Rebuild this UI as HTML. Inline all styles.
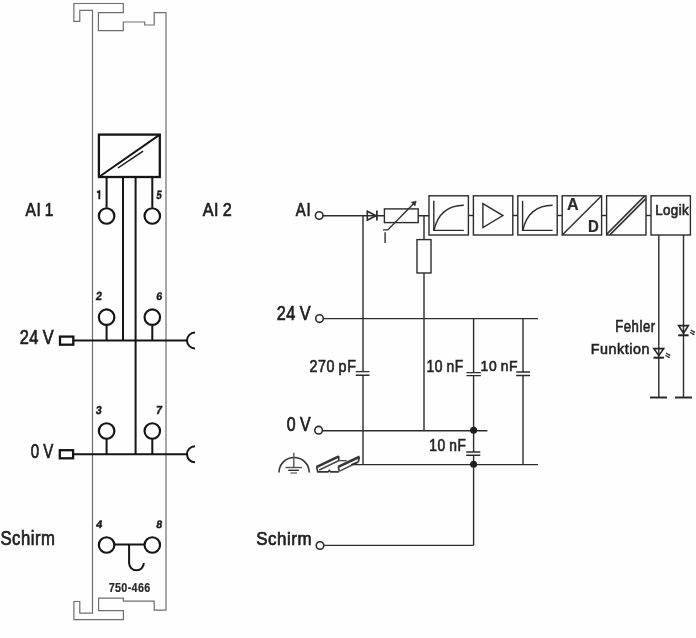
<!DOCTYPE html>
<html><head><meta charset="utf-8"><style>
html,body{margin:0;padding:0;background:#fefefe;}
svg{display:block;will-change:transform;}
</style></head><body>
<svg width="696" height="638" viewBox="0 0 696 638">
<rect width="696" height="638" fill="#fefefe"/>
<path d="M92.5,613.1 L92.5,10.3 L79.8,10.3 L79.8,21.4 L73.9,21.4 L73.9,3.5 L123.3,3.5 L123.3,12.6 L98.4,12.6 L98.4,30.6 L123.3,30.6 L123.3,22 L144.7,22 L144.7,25 L154.2,25 L154.2,12.6 L166.0,12.6 L166.0,610.2 L154.2,610.2 L154.2,601.2 L123.4,601.2 L123.4,598.2 L98.6,598.2 L98.6,610.6 L123.4,610.6 L123.4,619.6 L73.9,619.6 L73.9,601.5 L79.8,601.5 L79.8,613.1 Z" fill="none" stroke="#6e6e6e" stroke-width="1.2"/>
<g stroke="#151515" fill="none" stroke-linecap="butt"><rect x="98.9" y="134.6" width="60.9" height="42.4" fill="none" stroke-width="2.3"/><path d="M98.9,177 L159.8,134.6" stroke-width="2"/><path d="M117.9,168 L143.1,151.1" stroke-width="1.5"/><path d="M97.2,192.6 Q98.3,191.1 99.4,191.1 L99.3,199.2" stroke-width="1.9" stroke="#1a1a1a"/><path d="M106.6,177 V207.8 M152.3,177 V207.8 M123,177 V340.5 M135.6,177 V454.4" stroke-width="2"/><circle cx="106.6" cy="216.0" r="7.75" fill="none" stroke-width="2.2"/><circle cx="152.3" cy="216.0" r="7.75" fill="none" stroke-width="2.2"/><circle cx="106.6" cy="317.2" r="7.75" fill="none" stroke-width="2.2"/><circle cx="152.3" cy="317.2" r="7.75" fill="none" stroke-width="2.2"/><circle cx="106.6" cy="431.0" r="7.75" fill="none" stroke-width="2.2"/><circle cx="152.3" cy="431.0" r="7.75" fill="none" stroke-width="2.2"/><circle cx="106.6" cy="545.0" r="7.75" fill="none" stroke-width="2.2"/><circle cx="152.3" cy="545.0" r="7.75" fill="none" stroke-width="2.2"/><path d="M106.6,325 V340.5 M152.3,325 V340.5 M106.6,438.8 V454.4 M152.3,438.8 V454.4" stroke-width="2"/><path d="M73.3,340.5 H187 M73.3,454.3 H187" stroke-width="2"/><rect x="60" y="336.6" width="13.3" height="8.1" fill="none" stroke-width="2.3"/><rect x="59.8" y="450.2" width="13.3" height="8.1" fill="none" stroke-width="2.3"/><path d="M195,332.5 A8,8 0 0 0 195,348.5 M195,446.3 A8,8 0 0 0 195,462.3" fill="none" stroke-width="2"/><path d="M114,544.5 H144.5 M129.1,544.5 V563 A7.35,7.35 0 0 0 143.8,563" fill="none" stroke-width="2"/></g>
<g stroke="#2c2c2c" fill="none" stroke-width="1.4"><circle cx="319.2" cy="215.5" r="3.8" stroke-width="1.6"/><circle cx="319.5" cy="318.6" r="3.8" stroke-width="1.6"/><circle cx="318.6" cy="430.2" r="3.8" stroke-width="1.6"/><circle cx="320.0" cy="545.5" r="3.8" stroke-width="1.6"/><path d="M323,215.7 H429" /><path d="M367.3,211.2 L376,215.7 L367.3,220.1 Z" stroke="#2a2a2a" stroke-width="1.6"/><path d="M376.9,210.6 V220.5" stroke="#2a2a2a" stroke-width="1.7"/><rect x="384.4" y="208.9" width="33.8" height="13.7" fill="#fefefe"/><path d="M383,229.9 H387.8 L413.5,203.8" /><path d="M416.3,201 L411.3,202.2 L415.1,206 Z" fill="#333" stroke="#333" stroke-width="0.5"/><path d="M385.1,232.2 V243.1" /><path d="M424,215.7 V239.6 M424,273 V430.3" /><rect x="417" y="239.6" width="14" height="33.4" /><path d="M363,215.7 V371.6 M363,375.2 V464.3" /><path d="M355.7,371.6 H369.5 M355.7,375.2 H369.5" /><path d="M323.3,318.6 H538" /><path d="M473.6,318.5 V372.6 M473.6,375.6 V452 M473.6,455.2 V545.4 M466.4,372.6 H480.8 M466.4,375.6 H480.8" /><path d="M523,318.5 V372 M523,375.5 V464.2 M516.2,372 H530 M516.2,375.5 H530" /><path d="M466.2,452 H480.3 M466.2,455.2 H480.3" /><path d="M322.4,430.7 H487.4" /><path d="M351.5,464.6 H538" /><path d="M323.8,545.4 H473.6" /><rect x="429.0" y="195.8" width="39.4" height="39.2" /><path d="M468.4,215.5 H473.4" /><rect x="473.4" y="195.8" width="39.4" height="39.2" /><path d="M512.8,215.5 H517.8" /><rect x="517.8" y="195.8" width="39.4" height="39.2" /><path d="M557.1999999999999,215.5 H562.1999999999999" /><rect x="562.2" y="195.8" width="39.4" height="39.2" /><path d="M601.6,215.5 H606.6" /><rect x="606.6" y="195.8" width="39.4" height="39.2" /><path d="M646.0,215.5 H651.0" /><rect x="651.0" y="195.8" width="39.4" height="39.2" /><path d="M433.8,200.8 V230.4 H463.8" /><path d="M434.1,230 C437.8,214 447.8,205.5 463.8,205.3" /><path d="M522.5999999999999,200.8 V230.4 H552.5999999999999" /><path d="M522.8999999999999,230 C526.5999999999999,214 536.5999999999999,205.5 552.5999999999999,205.3" /><path d="M482.9,203.6 L502.9,215.6 L482.9,227.6 Z" /><path d="M562.2,235 L601.6,195.8" /><clipPath id="cb5"><rect x="606.6" y="195.8" width="39.4" height="39.2"/></clipPath><g clip-path="url(#cb5)" stroke="#333" stroke-width="1.7"><path d="M599.7,241.3 L651.1,189.5" /><path d="M601.6,243.2 L653,191.4" /></g><path d="M658.8,235 V397.5 M683.5,235 V397.5" /><path d="M650,397.5 H667 M675,397.5 H692" stroke-width="2.2"/><path d="M653.9,348.6 H663.6999999999999 L658.8,355.7 Z" stroke="#222" stroke-width="1.6"/><path d="M653.5,357.7 H663.9" stroke="#222" stroke-width="2"/><path d="M666.0,353.1 L670.1999999999999,355.20000000000005 M665.4,355.40000000000003 L669.5999999999999,357.5" stroke="#333" stroke-width="1.2"/><path d="M670.1999999999999,355.20000000000005 l-1.8,-0.1 M669.5999999999999,357.5 l-1.8,-0.1" stroke="#333" stroke-width="1"/><path d="M678.6,325.6 H688.4 L683.5,333.3 Z" stroke="#222" stroke-width="1.6"/><path d="M678.2,335.3 H688.6" stroke="#222" stroke-width="2"/><path d="M690.7,330.1 L694.9,332.20000000000005 M690.1,332.40000000000003 L694.3,334.5" stroke="#333" stroke-width="1.2"/><path d="M694.9,332.20000000000005 l-1.8,-0.1 M694.3,334.5 l-1.8,-0.1" stroke="#333" stroke-width="1"/><circle cx="473.6" cy="430.2" r="3.5" fill="#1e1e1e" stroke="none"/><circle cx="473.6" cy="464.3" r="3.5" fill="#1e1e1e" stroke="none"/><path d="M279,472.6 A15.1,15.1 0 0 1 309.2,472.6" stroke="#333" stroke-width="1.6"/><path d="M293.8,452.8 V467.5" stroke="#555" stroke-width="1.4"/><path d="M285.6,467.5 H302" stroke="#555" stroke-width="1.4"/><path d="M288.2,470.3 H298.9" stroke="#222" stroke-width="1.3"/><path d="M290.5,473 H297.1" stroke="#666" stroke-width="1.3"/><path d="M319.2,470 L338.6,460.8 M339.6,471.2 L358.2,462" stroke="#4a4a4a" stroke-width="1.5"/><path d="M316.4,467.1 L338.8,456.4 M338.2,466.9 L359.6,456.8" stroke="#363636" stroke-width="2.6"/><path d="M316.6,467 L317.8,471.9 H328 L329.2,470.5 L330.6,471.9 H338.8 M338.8,456.2 V461 M359.4,457 L358.2,462.2 M338.2,467 L339.4,471.4" stroke="#333" stroke-width="1.6"/><path d="M338.8,460.7 H346.8" stroke="#555" stroke-width="1.4"/><path d="M351.3,464.7 L357.6,462.3" stroke="#333" stroke-width="1.6"/></g>
<g font-family="'Liberation Sans', sans-serif"><text transform="translate(25.62,216.35) scale(0.8070,1)" letter-spacing="0.556" font-size="19.19" font-weight="normal" fill="#202020" stroke="#202020" stroke-width="0.7">AI 1</text><text transform="translate(202.82,216.35) scale(0.8533,1)" letter-spacing="0.547" font-size="18.90" font-weight="normal" fill="#202020" stroke="#202020" stroke-width="0.7">AI 2</text><text transform="translate(19.63,344.35) scale(0.8326,1)" letter-spacing="0.663" font-size="19.62" font-weight="normal" fill="#202020" stroke="#202020" stroke-width="0.7">24 V</text><text transform="translate(30.86,457.65) scale(0.7684,1)" letter-spacing="0.712" font-size="19.62" font-weight="normal" fill="#202020" stroke="#202020" stroke-width="0.7">0 V</text><text transform="translate(0.39,545.35) scale(0.8414,1)" letter-spacing="0.628" font-size="19.87" font-weight="normal" fill="#202020" stroke="#202020" stroke-width="0.7">Schirm</text><text transform="translate(156.01,199.10) skewX(-7.0) scale(0.7914,1)" letter-spacing="0.000" font-size="11.92" font-weight="bold" fill="#1a1a1a" stroke="#1a1a1a" stroke-width="0.45">5</text><text transform="translate(95.52,300.10) skewX(-7.0) scale(0.9362,1)" letter-spacing="0.000" font-size="11.74" font-weight="bold" fill="#1a1a1a" stroke="#1a1a1a" stroke-width="0.45">2</text><text transform="translate(155.91,300.30) skewX(-7.0) scale(0.9820,1)" letter-spacing="0.000" font-size="10.88" font-weight="bold" fill="#1a1a1a" stroke="#1a1a1a" stroke-width="0.45">6</text><text transform="translate(95.46,413.80) skewX(-7.0) scale(0.9162,1)" letter-spacing="0.000" font-size="11.46" font-weight="bold" fill="#1a1a1a" stroke="#1a1a1a" stroke-width="0.45">3</text><text transform="translate(155.41,413.80) skewX(-7.0) scale(0.9746,1)" letter-spacing="0.000" font-size="11.63" font-weight="bold" fill="#1a1a1a" stroke="#1a1a1a" stroke-width="0.45">7</text><text transform="translate(95.73,527.60) skewX(-7.0) scale(0.9915,1)" letter-spacing="0.000" font-size="11.05" font-weight="bold" fill="#1a1a1a" stroke="#1a1a1a" stroke-width="0.45">4</text><text transform="translate(155.97,527.60) skewX(-7.0) scale(0.9616,1)" letter-spacing="0.000" font-size="10.88" font-weight="bold" fill="#1a1a1a" stroke="#1a1a1a" stroke-width="0.45">8</text><text transform="translate(108.64,591.50) scale(0.8468,1)" letter-spacing="0.401" font-size="12.75" font-weight="bold" fill="#2a2a2a" stroke="#2a2a2a" stroke-width="0.2">750-466</text><text transform="translate(295.82,216.45) scale(0.7801,1)" letter-spacing="0.852" font-size="19.04" font-weight="normal" fill="#202020" stroke="#202020" stroke-width="0.7">AI</text><text transform="translate(276.63,319.75) scale(0.8241,1)" letter-spacing="0.667" font-size="19.76" font-weight="normal" fill="#202020" stroke="#202020" stroke-width="0.7">24 V</text><text transform="translate(309.43,371.65) scale(0.8898,1)" letter-spacing="0.711" font-size="16.04" font-weight="normal" fill="#222" stroke="#222" stroke-width="0.6">270 pF</text><text transform="translate(426.39,371.75) scale(0.8508,1)" letter-spacing="0.726" font-size="16.33" font-weight="normal" fill="#222" stroke="#222" stroke-width="0.6">10 nF</text><text transform="translate(480.59,371.05) scale(0.9176,1)" letter-spacing="0.675" font-size="15.18" font-weight="normal" fill="#222" stroke="#222" stroke-width="0.6">10 nF</text><text transform="translate(286.73,431.35) scale(0.7989,1)" letter-spacing="0.723" font-size="19.91" font-weight="normal" fill="#202020" stroke="#202020" stroke-width="0.7">0 V</text><text transform="translate(429.30,450.85) scale(0.8823,1)" letter-spacing="0.694" font-size="15.61" font-weight="normal" fill="#222" stroke="#222" stroke-width="0.6">10 nF</text><text transform="translate(256.28,545.25) scale(0.8815,1)" letter-spacing="0.606" font-size="19.18" font-weight="normal" fill="#202020" stroke="#202020" stroke-width="0.7">Schirm</text><text transform="translate(615.17,332.05) scale(0.8362,1)" letter-spacing="0.648" font-size="15.73" font-weight="normal" fill="#222" stroke="#222" stroke-width="0.6">Fehler</text><text transform="translate(590.68,354.45) scale(0.9609,1)" letter-spacing="0.591" font-size="14.90" font-weight="normal" fill="#222" stroke="#222" stroke-width="0.6">Funktion</text><text transform="translate(655.15,215.25) scale(0.9079,1)" letter-spacing="0.449" font-size="14.77" font-weight="normal" fill="#2a2a2a" stroke="#2a2a2a" stroke-width="0.7">Logik</text><text transform="translate(567.00,209.70) scale(0.9978,1)" letter-spacing="0.000" font-size="16.13" font-weight="bold" fill="#2a2a2a" stroke="#2a2a2a" stroke-width="0.2">A</text><text transform="translate(588.00,231.90) scale(0.9215,1)" letter-spacing="0.000" font-size="16.28" font-weight="bold" fill="#2a2a2a" stroke="#2a2a2a" stroke-width="0.2">D</text></g>
</svg>
</body></html>
